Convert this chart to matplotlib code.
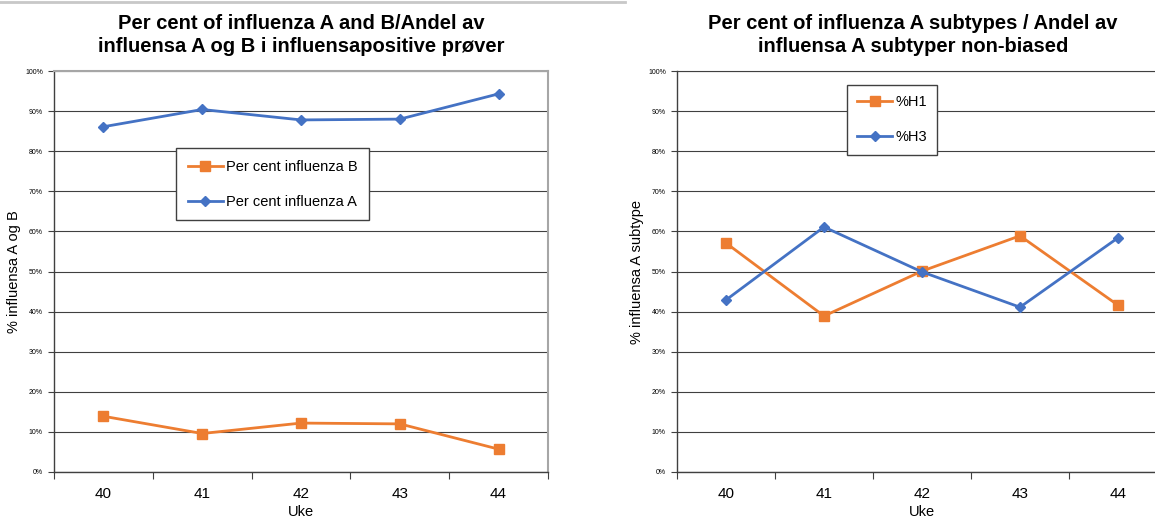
import matplotlib.pyplot as plt
from matplotlib.lines import Line2D
from matplotlib.ticker import FixedLocator, PercentFormatter

plt.rcParams['font.family'] = ['Liberation Sans', 'DejaVu Sans']

# weeks and weekly shares (%)
weeks = ['40', '41', '42', '43', '44']
pct_b = [13.9, 9.6, 12.2, 12.0, 5.7]
pct_a = [86.1, 90.4, 87.8, 88.0, 94.3]
pct_h1 = [57.1, 38.9, 50.1, 58.9, 41.6]
pct_h3 = [42.9, 61.1, 49.9, 41.1, 58.4]

ORANGE = '#ED7D31'
BLUE = '#4472C4'

fig = plt.figure(figsize=(11.55, 5.17), dpi=100)
W, H = 1155, 517

# light rule across the top of the left panel
fig.add_artist(Line2D([0, 625 / W], [1 - 2 / H, 1 - 2 / H], color='#c8c8c8', lw=2))


def style_axes(ax, ylabel):
    x = range(len(weeks))
    ax.set_xlim(-0.5, len(weeks) - 0.5)
    ax.set_ylim(0, 100)
    ax.xaxis.set_major_locator(FixedLocator([i - 0.5 for i in range(len(weeks) + 1)]))
    ax.xaxis.set_minor_locator(FixedLocator(list(x)))
    ax.set_xticklabels([], minor=False)
    ax.set_xticklabels(weeks, minor=True, fontsize=11)
    ax.tick_params(axis='x', which='major', direction='out', length=5, color='#404040')
    ax.tick_params(axis='x', which='minor', length=0, pad=11)
    ax.set_yticks(range(0, 101, 10))
    ax.yaxis.set_major_formatter(PercentFormatter(decimals=0))
    ax.tick_params(axis='y', direction='out', length=4, labelsize=5, pad=4, color='#404040')
    ax.grid(axis='y', color='#404040', lw=0.8)
    ax.set_axisbelow(True)
    ax.set_xlabel('Uke', fontsize=10.5, labelpad=3)
    ax.set_ylabel(ylabel, fontsize=10.5, labelpad=3)
    for s in ('left', 'bottom'):
        ax.spines[s].set_color('#404040')
        ax.spines[s].set_linewidth(1.0)


# left panel: influenza A vs B
ax1 = fig.add_axes([54 / W, 45 / H, 494 / W, 401 / H])
style_axes(ax1, '% influensa A og B')
for s in ('top', 'right'):
    ax1.spines[s].set_color('#a6a6a6')
    ax1.spines[s].set_linewidth(1.5)
x = range(len(weeks))
ax1.plot(x, pct_b, color=ORANGE, lw=2, marker='s', ms=7, label='Per cent influenza B')
ax1.plot(x, pct_a, color=BLUE, lw=2, marker='D', ms=5, label='Per cent influenza A')
ax1.legend(loc='upper left', bbox_to_anchor=(0.247, 0.808), fancybox=False,
           edgecolor='#404040', framealpha=1, fontsize=10.5, handlelength=2.4,
           labelspacing=1.45, borderpad=0.8, handletextpad=0.2, borderaxespad=0)
fig.text(301 / W, 1 - 35 / H, 'Per cent of influenza A and B/Andel av\ninfluensa A og B i influensapositive prøver',
         ha='center', va='center', fontsize=14.5, fontweight='bold', linespacing=1.3)

# right panel: influenza A subtypes
ax2 = fig.add_axes([677 / W, 45 / H, 490 / W, 401 / H])
style_axes(ax2, '% influensa A subtype')
ax2.spines['top'].set_color('#404040')
ax2.spines['right'].set_visible(False)
ax2.plot(x, pct_h1, color=ORANGE, lw=2, marker='s', ms=7, label='%H1')
ax2.plot(x, pct_h3, color=BLUE, lw=2, marker='D', ms=5, label='%H3')
ax2.legend(loc='upper left', bbox_to_anchor=(0.347, 0.965), fancybox=False,
           edgecolor='#404040', framealpha=1, fontsize=10.5, handlelength=2.4,
           labelspacing=1.45, borderpad=0.7, handletextpad=0.2, borderaxespad=0)
fig.text(913 / W, 1 - 35 / H, 'Per cent of influenza A subtypes / Andel av\ninfluensa A subtyper non-biased',
         ha='center', va='center', fontsize=14.5, fontweight='bold', linespacing=1.3)

fig.savefig('out.png', dpi=100)
